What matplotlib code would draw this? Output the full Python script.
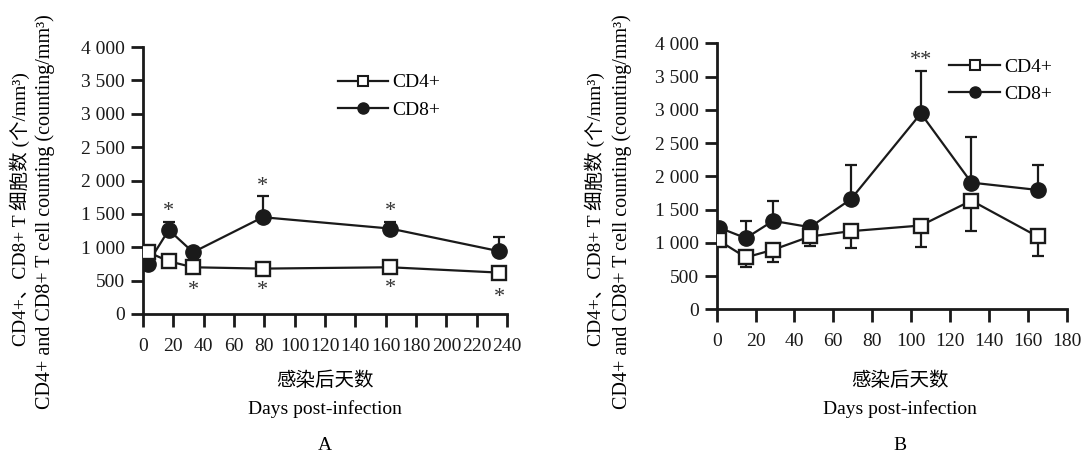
import matplotlib
matplotlib.use("Agg")
import matplotlib.pyplot as plt
from matplotlib.lines import Line2D

plt.rcParams['font.family'] = ['Liberation Serif', 'Noto Sans CJK SC']

# ---------------- data ----------------
# Panel A
a_days = [3, 17, 33, 79, 163, 235]
a_cd4 = [930, 790, 700, 680, 700, 620]
a_cd8 = [750, 1260, 925, 1450, 1280, 940]
a_cd8_err = [0, 125, 0, 325, 95, 210]
a_star_up_days = [17, 79, 163]
a_star_up_vals = [1600, 1975, 1600]
a_star_dn_days = [33, 79, 163, 235]
a_star_dn_vals = [450, 450, 480, 350]

# Panel B
b_days = [1, 15, 29, 48, 69, 105, 131, 165]
b_cd4 = [1035, 780, 895, 1095, 1175, 1260, 1635, 1095]
b_cd4_err = [0, 150, 190, 140, 260, 320, 465, 295]
b_cd8 = [1230, 1070, 1330, 1235, 1655, 2945, 1905, 1795]
b_cd8_err = [0, 265, 305, 0, 520, 640, 680, 380]
b_star_days = [105]
b_star_vals = [3720]

y_ticks = [0, 500, 1000, 1500, 2000, 2500, 3000, 3500, 4000]
y_ticklabels = ['0', '500', '1 000', '1 500', '2 000', '2 500', '3 000', '3 500', '4 000']
a_xticks = list(range(0, 241, 20))
b_xticks = list(range(0, 181, 20))

ylab1 = 'CD4+、CD8+ T 细胞数 (个/mm³)'
ylab2 = 'CD4+ and CD8+ T cell counting (counting/mm³)'
xlab_cn = '感染后天数'
xlab_en = 'Days post-infection'

W, H = 1085, 455
fig = plt.figure(figsize=(W / 100, H / 100), dpi=100)

FS = 14
LW = 1.6
INK = '#1a1a1a'

def style_axes(ax, xticks, xmax):
    ax.set_xlim(0, xmax)
    ax.set_ylim(0, 4000)
    ax.set_yticks(y_ticks)
    ax.set_yticklabels(y_ticklabels)
    ax.set_xticks(xticks)
    ax.set_xticklabels([str(t) for t in xticks])
    for s in ['top', 'right']:
        ax.spines[s].set_visible(False)
    for s in ['left', 'bottom']:
        ax.spines[s].set_linewidth(2)
        ax.spines[s].set_color(INK)
    ax.tick_params(axis='both', direction='out', length=9, width=2,
                   labelsize=FS, colors=INK, pad=4)
    ax.tick_params(axis='x', pad=8)

def draw_series(ax, days, cd4, cd4_err_lo, cd8, cd8_err_hi):
    ax.errorbar(days, cd8, yerr=[[0] * len(days), cd8_err_hi], fmt='none',
                ecolor=INK, elinewidth=LW, capsize=4, capthick=LW, zorder=2)
    if cd4_err_lo is not None:
        ax.errorbar(days, cd4, yerr=[cd4_err_lo, [0] * len(days)], fmt='none',
                    ecolor=INK, elinewidth=LW, capsize=4, capthick=LW, zorder=2)
    ax.plot(days, cd8, '-', color=INK, lw=LW, marker='o', markersize=11,
            markerfacecolor=INK, markeredgecolor=INK, zorder=3)
    ax.plot(days, cd4, '-', color=INK, lw=LW, marker='s', markersize=9.5,
            markerfacecolor='white', markeredgecolor=INK, markeredgewidth=1.7, zorder=4)

def stars(ax, days, vals, s, dy):
    for d, v in zip(days, vals):
        ax.annotate(s, xy=(d, v), xytext=(0, dy), textcoords='offset points',
                    ha='center', va='center', fontsize=16, color='#333333')

def legend(ax, x0, y0, dy):
    h1 = Line2D([], [], color=INK, lw=LW, marker='s', markersize=7,
                markerfacecolor='white', markeredgecolor=INK, markeredgewidth=1.5)
    h2 = Line2D([], [], color=INK, lw=LW, marker='o', markersize=8,
                markerfacecolor=INK, markeredgecolor=INK)
    ax.legend([h1, h2], ['CD4+', 'CD8+'], loc='upper left', bbox_to_anchor=(x0, y0),
              frameon=False, fontsize=FS, handlelength=2.6, handletextpad=0.2,
              labelspacing=dy, borderpad=0, borderaxespad=0)

# ---------------- Panel A ----------------
axA = fig.add_axes([143 / W, (H - 314) / H, 364 / W, 267 / H])
draw_series(axA, a_days, a_cd4, None, a_cd8, a_cd8_err)
style_axes(axA, a_xticks, 240)
stars(axA, a_star_up_days, a_star_up_vals, '*', -3)
stars(axA, a_star_dn_days, a_star_dn_vals, '*', -5)
legend(axA, 0.535, 0.9, 0.5)

# ---------------- Panel B ----------------
axB = fig.add_axes([716.7 / W, (H - 309.3) / H, 350 / W, 266 / H])
draw_series(axB, b_days, b_cd4, b_cd4_err, b_cd8, b_cd8_err)
style_axes(axB, b_xticks, 180)
stars(axB, b_star_days, b_star_vals, '**', 1)
legend(axB, 0.665, 0.945, 0.5)

# ---------------- labels ----------------
for x1, x2, xc, tag in [(20, 45, 325, 'A'), (595, 622, 900, 'B')]:
    fig.text(x1 / W, 1 - 209 / H, ylab1, rotation=90, ha='center', va='center', fontsize=FS)
    fig.text(x2 / W, 1 - 212 / H, ylab2, rotation=90, ha='center', va='center', fontsize=14.5)
    fig.text(xc / W, 1 - 381 / H, xlab_cn, ha='center', va='center', fontsize=FS)
    fig.text(xc / W, 1 - 409 / H, xlab_en, ha='center', va='center', fontsize=FS)
    fig.text(xc / W, 1 - 445 / H, tag, ha='center', va='center', fontsize=FS)

fig.savefig('out.png', dpi=100)
